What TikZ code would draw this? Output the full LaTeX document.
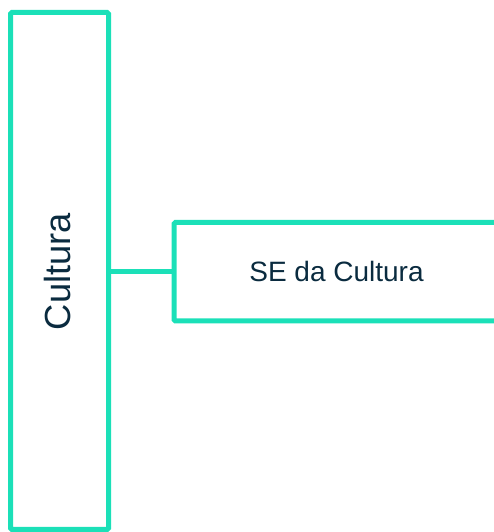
\documentclass[tikz,border=0pt]{standalone}
\usepackage{fontspec}
\setmainfont{Liberation Sans}
\definecolor{teal}{HTML}{1BE0B8}
\definecolor{navy}{HTML}{0A2B3F}
\begin{document}
\begin{tikzpicture}[x=1pt,y=1pt,
  box/.style={draw=teal,line width=5pt,rounded corners=1.5pt,inner sep=0pt},
  lbl/.style={text=navy}]
\useasboundingbox (0,0) rectangle (493,532);
\node[box,minimum width=98pt,minimum height=517pt] (main) at (59.5,261) {};
\node[lbl,rotate=90,font=\fontsize{36.3}{42}\selectfont] (maintext) at (58,260.5) {Cultura};
\node[box,minimum width=325pt,minimum height=98.5pt] (se) at (336.5,260.25) {};
\node[lbl,font=\fontsize{28}{33}\selectfont] (setext) at (336.5,260.5) {SE da Cultura};
\draw[teal,line width=5pt] (main.east |- se.west) -- (se.west);
\end{tikzpicture}
\end{document}
